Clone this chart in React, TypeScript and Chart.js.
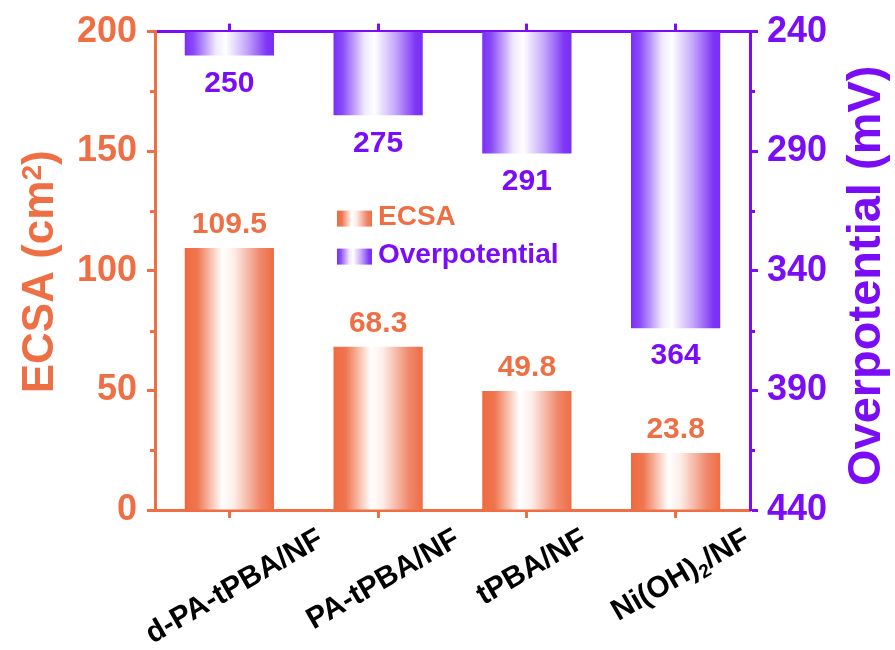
import React, { useEffect, useRef } from 'react';
import { Chart, registerables } from 'chart.js';

Chart.register(...registerables);

// ---- data ----
const categories = ['d-PA-tPBA/NF', 'PA-tPBA/NF', 'tPBA/NF', 'Ni(OH)2/NF'];
const ecsaValues = [109.5, 68.3, 49.8, 23.8];
const overpotentialValues = [250, 275, 291, 364];
const ecsaRange = [0, 200];
const overpotentialRange = [240, 440];
const tickStep = 50;

// ---- style ----
const FONT = "'Liberation Sans', Arial, Helvetica, sans-serif";
const ORANGE = '#EF6F45';
const PURPLE = '#7A0CF6';
const BAR_FRACTION = 0.6;

const ORANGE_STOPS: [number, string][] = [
  [0, '#EE6A40'],
  [0.14, '#EF7650'],
  [0.42, '#FFFFFF'],
  [0.55, '#FDEEE9'],
  [0.85, '#F08769'],
  [1, '#EE6D45'],
];
const PURPLE_STOPS: [number, string][] = [
  [0, '#7A2EF7'],
  [0.1, '#8A4BF8'],
  [0.35, '#F0E9FF'],
  [0.46, '#FFFFFF'],
  [0.7, '#C2A4FB'],
  [0.92, '#7E36F6'],
  [1, '#7A2EF7'],
];

function makeGradient(ctx: CanvasRenderingContext2D, x0: number, x1: number, stops: [number, string][]) {
  const g = ctx.createLinearGradient(x0, 0, x1, 0);
  stops.forEach(([o, c]) => g.addColorStop(o, c));
  return g;
}

function barFill(c: any, stops: [number, string][], fallback: string) {
  const chart = c.chart;
  const xs = chart.scales && chart.scales.x;
  if (c.type !== 'data' || !xs) return fallback;
  const cx = xs.getPixelForValue(c.dataIndex);
  const w = (xs.width / categories.length) * BAR_FRACTION;
  if (!isFinite(cx) || !isFinite(w) || w <= 0) return fallback;
  return makeGradient(chart.ctx, cx - w / 2, cx + w / 2, stops);
}

type Part = { text: string; size: number; dy: number };

function partsWidth(ctx: CanvasRenderingContext2D, parts: Part[]) {
  let w = 0;
  for (const p of parts) {
    ctx.font = `bold ${p.size}px ${FONT}`;
    w += ctx.measureText(p.text).width;
  }
  return w;
}

function drawParts(ctx: CanvasRenderingContext2D, parts: Part[], x: number, baseline: number) {
  let cx = x;
  ctx.textAlign = 'left';
  ctx.textBaseline = 'alphabetic';
  for (const p of parts) {
    ctx.font = `bold ${p.size}px ${FONT}`;
    ctx.fillText(p.text, cx, baseline + p.dy);
    cx += ctx.measureText(p.text).width;
  }
}

// split "Ni(OH)2/NF" into normal text and lowered digits
function labelParts(label: string, size: number): Part[] {
  const pieces = label.split(/(?<=\))(\d+)/);
  return pieces
    .filter((t) => t.length > 0)
    .map((t, i) => {
      const isSub = /^\d+$/.test(t) && i > 0;
      return isSub ? { text: t, size: Math.round(size * 0.62), dy: 6 } : { text: t, size, dy: 0 };
    });
}

const decorPlugin = {
  id: 'decor',
  afterDraw(chart: any) {
    const { ctx, chartArea: area, scales } = chart;
    const xs = scales.x;
    const ys = scales.y;
    const y1s = scales.y1;
    ctx.save();

    // minor ticks
    ctx.lineWidth = 3;
    ctx.strokeStyle = ORANGE;
    for (let v = ecsaRange[0] + tickStep / 2; v < ecsaRange[1]; v += tickStep) {
      const py = Math.round(ys.getPixelForValue(v)) + 0.5;
      ctx.beginPath();
      ctx.moveTo(area.left - 5, py);
      ctx.lineTo(area.left, py);
      ctx.stroke();
    }
    ctx.strokeStyle = PURPLE;
    for (let v = overpotentialRange[0] + tickStep / 2; v < overpotentialRange[1]; v += tickStep) {
      const py = Math.round(y1s.getPixelForValue(v)) + 0.5;
      ctx.beginPath();
      ctx.moveTo(area.right, py);
      ctx.lineTo(area.right + 5, py);
      ctx.stroke();
    }

    // value labels
    ctx.textAlign = 'center';
    ctx.textBaseline = 'middle';
    ctx.font = `bold 30px ${FONT}`;
    const m0 = chart.getDatasetMeta(0);
    ctx.fillStyle = ORANGE;
    m0.data.forEach((el: any, i: number) => {
      ctx.fillText(String(ecsaValues[i]), el.x, el.y - 23);
    });
    const m1 = chart.getDatasetMeta(1);
    ctx.fillStyle = PURPLE;
    m1.data.forEach((el: any, i: number) => {
      ctx.fillText(String(overpotentialValues[i]), el.x, el.y + 28);
    });

    // category labels, rotated
    ctx.fillStyle = '#000000';
    categories.forEach((label, i) => {
      const parts = labelParts(label, 30);
      const w = partsWidth(ctx, parts);
      const cx = xs.getPixelForValue(i) + 4;
      const cy = area.bottom + 25 + w / 4;
      ctx.save();
      ctx.translate(cx, cy);
      ctx.rotate(-Math.PI / 6);
      drawParts(ctx, parts, -w / 2, 30 * 0.716 / 2);
      ctx.restore();
    });

    // left axis title
    ctx.fillStyle = ORANGE;
    const leftTitle: Part[] = [
      { text: 'ECSA (cm', size: 44, dy: 0 },
      { text: '2', size: 28, dy: -12 },
      { text: ')', size: 44, dy: 0 },
    ];
    const lw = partsWidth(ctx, leftTitle);
    ctx.save();
    ctx.translate(53, (area.top + area.bottom) / 2 + 1);
    ctx.rotate(-Math.PI / 2);
    drawParts(ctx, leftTitle, -lw / 2, 0);
    ctx.restore();

    // right axis title
    ctx.fillStyle = PURPLE;
    const rightTitle: Part[] = [{ text: 'Overpotential (mV)', size: 47, dy: 0 }];
    const rw = partsWidth(ctx, rightTitle);
    ctx.save();
    ctx.translate(880, (area.top + area.bottom) / 2 + 5);
    ctx.rotate(-Math.PI / 2);
    drawParts(ctx, rightTitle, -rw / 2, 0);
    ctx.restore();

    // legend
    const lx = area.left + 182;
    const rows = [
      { name: 'ECSA', color: ORANGE, stops: ORANGE_STOPS },
      { name: 'Overpotential', color: PURPLE, stops: PURPLE_STOPS },
    ];
    rows.forEach((r, i) => {
      const base = area.top + 193 + i * 38;
      ctx.fillStyle = makeGradient(ctx, lx, lx + 35, r.stops);
      ctx.fillRect(lx, base - 14, 35, 16);
      ctx.fillStyle = r.color;
      ctx.font = `bold 28px ${FONT}`;
      ctx.textAlign = 'left';
      ctx.textBaseline = 'alphabetic';
      ctx.fillText(r.name, lx + 41, base);
    });

    ctx.restore();
  },
};

export default function App() {
  const canvasRef = useRef<HTMLCanvasElement | null>(null);

  useEffect(() => {
    const canvas = canvasRef.current;
    if (!canvas) return;

    const tickFont = { family: FONT, size: 36, weight: 'bold' as const };

    const chart = new Chart(canvas, {
      type: 'bar',
      data: {
        labels: categories,
        datasets: [
          {
            label: 'ECSA',
            data: ecsaValues,
            xAxisID: 'x',
            yAxisID: 'y',
            grouped: false,
            barPercentage: BAR_FRACTION,
            categoryPercentage: 1,
            borderWidth: 0,
            backgroundColor: (c: any) => barFill(c, ORANGE_STOPS, ORANGE),
          },
          {
            label: 'Overpotential',
            data: overpotentialValues,
            xAxisID: 'x',
            yAxisID: 'y1',
            base: overpotentialRange[0],
            grouped: false,
            barPercentage: BAR_FRACTION,
            categoryPercentage: 1,
            borderWidth: 0,
            backgroundColor: (c: any) => barFill(c, PURPLE_STOPS, PURPLE),
          },
        ],
      } as any,
      options: {
        responsive: false,
        animation: false,
        devicePixelRatio: 1,
        events: [],
        layout: { padding: 0 },
        plugins: {
          legend: { display: false },
          tooltip: { enabled: false },
        },
        scales: {
          x: {
            type: 'category',
            position: 'bottom',
            offset: true,
            z: 1,
            grid: {
              offset: false,
              drawOnChartArea: false,
              drawTicks: true,
              tickLength: 8,
              tickWidth: 3,
              tickColor: ORANGE,
            },
            border: { display: true, color: ORANGE, width: 3 },
            ticks: { display: false },
            afterFit: (s: any) => {
              s.height = 140;
            },
          },
          x2: {
            type: 'category',
            position: 'top',
            offset: true,
            z: 1,
            grid: {
              offset: false,
              drawOnChartArea: false,
              drawTicks: true,
              tickLength: 8,
              tickWidth: 3,
              tickColor: PURPLE,
            },
            border: { display: true, color: PURPLE, width: 3 },
            ticks: { display: false },
            afterFit: (s: any) => {
              s.height = 30;
            },
          },
          y: {
            type: 'linear',
            position: 'left',
            min: ecsaRange[0],
            max: ecsaRange[1],
            z: 1,
            ticks: { stepSize: tickStep, color: ORANGE, font: tickFont, padding: 10 },
            grid: {
              drawOnChartArea: false,
              drawTicks: true,
              tickLength: 8,
              tickWidth: 3,
              tickColor: ORANGE,
            },
            border: { display: true, color: ORANGE, width: 3 },
            afterFit: (s: any) => {
              s.width = 155;
            },
          },
          y1: {
            type: 'linear',
            position: 'right',
            min: overpotentialRange[0],
            max: overpotentialRange[1],
            reverse: true,
            z: 1,
            ticks: { stepSize: tickStep, color: PURPLE, font: tickFont, padding: 9 },
            grid: {
              drawOnChartArea: false,
              drawTicks: true,
              tickLength: 8,
              tickWidth: 3,
              tickColor: PURPLE,
            },
            border: { display: true, color: PURPLE, width: 3 },
            afterFit: (s: any) => {
              s.width = 145;
            },
          },
        },
      } as any,
      plugins: [decorPlugin],
    });

    return () => {
      chart.destroy();
    };
  }, []);

  return (
    <div style={{ position: 'fixed', left: 0, top: 0, width: 895, height: 650, background: '#ffffff' }}>
      <canvas ref={canvasRef} width={895} height={650} style={{ display: 'block' }} />
    </div>
  );
}
